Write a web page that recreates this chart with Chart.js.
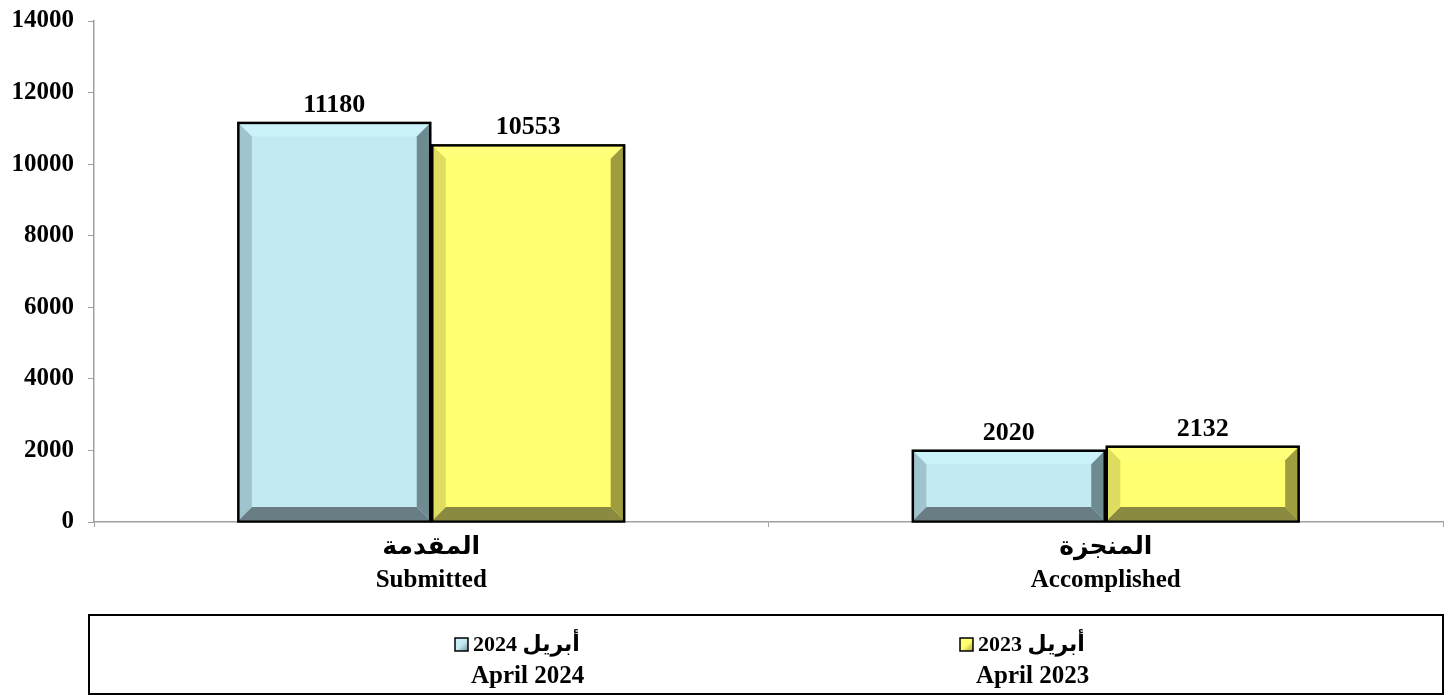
<!DOCTYPE html>
<html>
<head>
<meta charset="utf-8">
<script src="https://cdn.jsdelivr.net/npm/chart.js@4.4.1/dist/chart.umd.min.js"></script>
<style>
  html, body { margin: 0; padding: 0; background: #fff; }
  #wrap { width: 1451px; height: 695px; }
</style>
</head>
<body>
<div id="wrap"><canvas id="reqChart" width="1451" height="695"></canvas></div>
<script>
// chart values
var categoriesAr = ['المقدمة', 'المنجزة'];
var categoriesEn = ['Submitted', 'Accomplished'];
var seriesAr = ['أبريل 2024', 'أبريل 2023'];
var seriesEn = ['April 2024', 'April 2023'];
var april2024 = [11180, 2020];
var april2023 = [10553, 2132];
var yTicks = [0, 2000, 4000, 6000, 8000, 10000, 12000, 14000];

var FONT = "'Liberation Serif', 'Times New Roman', 'DejaVu Sans', serif";

// bevel colours: face, top, left, right, bottom
var bevels = [
  { face: '#c3eaf3', top: '#cbf2f9', left: '#9fc4cd', right: '#6e8b91', bottom: '#687e84' },
  { face: '#ffff6f', top: '#ffff7a', left: '#dedd5f', right: '#9f9d40', bottom: '#8a8a40' }
];

var bevelPlugin = {
  id: 'bevel',
  afterDatasetsDraw: function(chart) {
    var ctx = chart.ctx;
    chart.data.datasets.forEach(function(ds, di) {
      var meta = chart.getDatasetMeta(di);
      var c = bevels[di];
      meta.data.forEach(function(bar) {
        var l = bar.x - bar.width / 2 + 1.5, r = bar.x + bar.width / 2 - 1.5;
        var t = bar.y + 1.5, b = bar.base - 1.5;
        var w = Math.min(13, (b - t) / 2, (r - l) / 2);
        function poly(pts, col) {
          ctx.beginPath();
          ctx.moveTo(pts[0][0], pts[0][1]);
          for (var i = 1; i < pts.length; i++) ctx.lineTo(pts[i][0], pts[i][1]);
          ctx.closePath();
          ctx.fillStyle = col;
          ctx.fill();
        }
        ctx.save();
        poly([[l, t], [r, t], [r - w, t + w], [l + w, t + w]], c.top);
        poly([[l, b], [r, b], [r - w, b - w], [l + w, b - w]], c.bottom);
        poly([[l, t], [l + w, t + w], [l + w, b - w], [l, b]], c.left);
        poly([[r, t], [r - w, t + w], [r - w, b - w], [r, b]], c.right);
        ctx.lineWidth = 2.5;
        ctx.strokeStyle = '#000';
        ctx.strokeRect(bar.x - bar.width / 2 + 1, bar.y + 1, bar.width - 2, bar.base - bar.y - 1);
        ctx.restore();
      });
    });
  },
  afterDraw: function(chart) {
    var ctx = chart.ctx;
    ctx.save();
    // value labels
    ctx.font = 'bold 26px ' + FONT;
    ctx.fillStyle = '#000';
    ctx.textAlign = 'center';
    ctx.textBaseline = 'alphabetic';
    chart.data.datasets.forEach(function(ds, di) {
      chart.getDatasetMeta(di).data.forEach(function(bar, i) {
        ctx.fillText(String(ds.data[i]), bar.x, bar.y - 10);
      });
    });

    // legend box
    ctx.lineWidth = 2;
    ctx.strokeStyle = '#000';
    ctx.strokeRect(89, 615, 1354, 79);

    var itemX = [455, 960];
    for (var k = 0; k < seriesAr.length; k++) {
      var x = itemX[k], y = 645;
      var c = bevels[k];
      var g = ctx.createLinearGradient(x, y - 7, x + 13, y + 7);
      g.addColorStop(0, c.top);
      g.addColorStop(0.5, c.face);
      g.addColorStop(1, c.right);
      ctx.fillStyle = g;
      ctx.fillRect(x, y - 7, 13, 13);
      ctx.lineWidth = 1.5;
      ctx.strokeRect(x, y - 7, 13, 13);

      ctx.fillStyle = '#000';
      ctx.textBaseline = 'middle';
      ctx.textAlign = 'left';
      ctx.direction = 'rtl';
      ctx.font = 'bold 22px ' + FONT;
      ctx.fillText(seriesAr[k], x + 18, y);
      ctx.direction = 'ltr';
      ctx.font = 'bold 25px ' + FONT;
      ctx.fillText(seriesEn[k], x + 16, 677);
    }
    ctx.restore();
  }
};

var chartdata = {
  labels: categoriesAr.map(function(a, i) { return [a, categoriesEn[i]]; }),
  datasets: [
    {
      label: seriesAr[0] + ' ' + seriesEn[0],
      data: april2024,
      backgroundColor: bevels[0].face,
      borderColor: '#000',
      borderWidth: 0
    },
    {
      label: seriesAr[1] + ' ' + seriesEn[1],
      data: april2023,
      backgroundColor: bevels[1].face,
      borderColor: '#000',
      borderWidth: 0
    }
  ]
};

var chartoptions = {
  responsive: false,
  animation: false,
  devicePixelRatio: 1,
  layout: { padding: { top: 21, right: 8, left: 0, bottom: 0 } },
  datasets: { bar: { barPercentage: 1, categoryPercentage: 0.575 } },
  plugins: {
    legend: { display: false },
    tooltip: { enabled: false }
  },
  scales: {
    x: {
      grid: { drawOnChartArea: false, drawTicks: true, tickLength: 5, color: '#a0a0a0', offset: true },
      border: { display: true, color: '#a0a0a0', width: 1.5 },
      ticks: {
        color: '#000',
        padding: 4,
        maxRotation: 0,
        font: { family: FONT, size: 25, weight: 'bold', lineHeight: 1.32 }
      },
      afterFit: function(scale) { scale.height = 173; }
    },
    y: {
      min: 0,
      max: 14000,
      afterBuildTicks: function(scale) {
        scale.ticks = yTicks.map(function(v) { return { value: v }; });
      },
      grid: { drawOnChartArea: false, drawTicks: true, tickLength: 6, color: '#a0a0a0' },
      border: { display: true, color: '#a0a0a0', width: 1.5 },
      ticks: {
        color: '#000',
        padding: 14,
        font: { family: FONT, size: 25, weight: 'bold' },
        callback: function(v) { return String(v); }
      },
      afterFit: function(scale) {
        scale.width = 94;
        scale.paddingTop = 0;
        scale.paddingBottom = 0;
      }
    }
  }
};

var ctx = document.getElementById('reqChart');
var barGraph = new Chart(ctx, {
  type: 'bar',
  data: chartdata,
  options: chartoptions,
  plugins: [bevelPlugin]
});
</script>
</body>
</html>
